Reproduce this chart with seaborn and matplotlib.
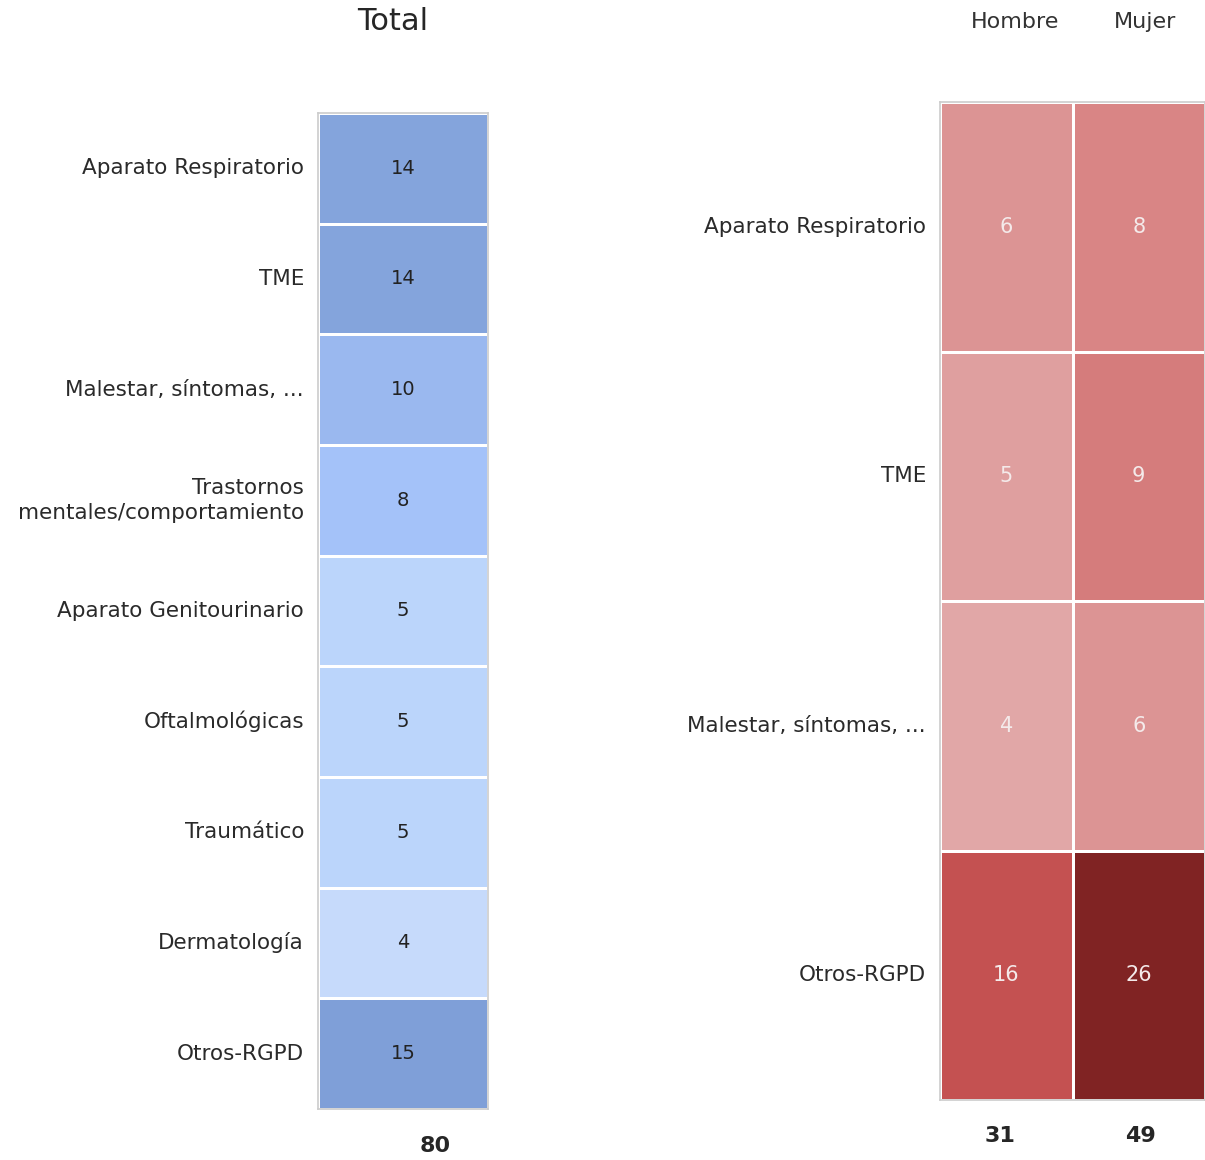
import numpy as np
import pandas as pd
import matplotlib
matplotlib.use("Agg")
import matplotlib.pyplot as plt
import seaborn as sns
from matplotlib.colors import LinearSegmentedColormap

# data
total_cats = ["Aparato Respiratorio", "TME", "Malestar, síntomas, ...",
              "Trastornos\nmentales/comportamiento", "Aparato Genitourinario",
              "Oftalmológicas", "Traumático", "Dermatología", "Otros-RGPD"]
total_vals = [14, 14, 10, 8, 5, 5, 5, 4, 15]
total_sum = "80"

sex_cats = ["Aparato Respiratorio", "TME", "Malestar, síntomas, ...", "Otros-RGPD"]
sex_cols = ["Hombre", "Mujer"]
hombre_vals = [6, 5, 4, 16]
mujer_vals = [8, 9, 6, 26]
sex_sums = ["31", "49"]

sns.set_style("white")
plt.rcParams['font.family'] = ['DejaVu Sans']

fig = plt.figure(figsize=(12.05, 11.6), dpi=100)

# left heatmap (total)
blues = LinearSegmentedColormap.from_list(
    "tot", [(0.0, "#C6DAFB"), (0.1, "#BAD4FB"), (0.35, "#A5C3FA"),
            (0.55, "#9AB8EF"), (0.9, "#84A4DC"), (1.0, "#7F9FD8")])
df_tot = pd.DataFrame({"Total": total_vals}, index=total_cats)
ax1 = fig.add_axes([318 / 1205, 1 - 1109 / 1160, 170 / 1205, 996 / 1160])
sns.heatmap(df_tot, ax=ax1, cmap=blues, vmin=4, vmax=15, cbar=False,
            annot=True, fmt="d", linewidths=2, linecolor="white",
            annot_kws={"color": "#222222", "fontsize": 14})
ax1.set_xticks([])
ax1.set_yticklabels(total_cats, rotation=0, fontsize=15.5, color="#2a2a2a",
                    ha="right", multialignment="right", linespacing=1.35)
ax1.tick_params(axis="y", length=0, pad=10)
for s in ax1.spines.values():
    s.set_visible(True)
    s.set_color("#cccccc")
    s.set_linewidth(1.2)
fig.text(393 / 1205, 1 - 22 / 1160, "Total", ha="center", va="center", fontsize=22)
fig.text(435 / 1205, 1 - 1146 / 1160, total_sum, ha="center", va="center",
         fontsize=16, fontweight="bold")

# right heatmap (by sex)
reds = LinearSegmentedColormap.from_list(
    "sex", [(0.0, "#E1A7A7"), (0.045, "#DF9F9F"), (0.09, "#DC9494"),
            (0.18, "#D98585"), (0.23, "#D57C7C"), (0.55, "#C45050"),
            (1.0, "#802323")])
df_sex = pd.DataFrame({"Hombre": hombre_vals, "Mujer": mujer_vals}, index=sex_cats)
ax2 = fig.add_axes([940 / 1205, 1 - 1100 / 1160, 265 / 1205, 998 / 1160])
sns.heatmap(df_sex, ax=ax2, cmap=reds, vmin=4, vmax=26, cbar=False,
            annot=True, fmt="d", linewidths=2, linecolor="white",
            annot_kws={"color": "#f4eaea", "fontsize": 15})
ax2.set_xticks([])
ax2.set_yticklabels(sex_cats, rotation=0, fontsize=15.5, color="#2a2a2a")
ax2.tick_params(axis="y", length=0, pad=10)
for s in ax2.spines.values():
    s.set_visible(True)
    s.set_color("#cccccc")
    s.set_linewidth(1.2)
for x, lab in zip([1015, 1145], sex_cols):
    fig.text(x / 1205, 1 - 22 / 1160, lab, ha="center", va="center",
             fontsize=16, color="#333333")
for x, lab in zip([1000, 1140], sex_sums):
    fig.text(x / 1205, 1 - 1136 / 1160, lab, ha="center", va="center",
             fontsize=16, fontweight="bold")

fig.savefig("out.png", dpi=100)
